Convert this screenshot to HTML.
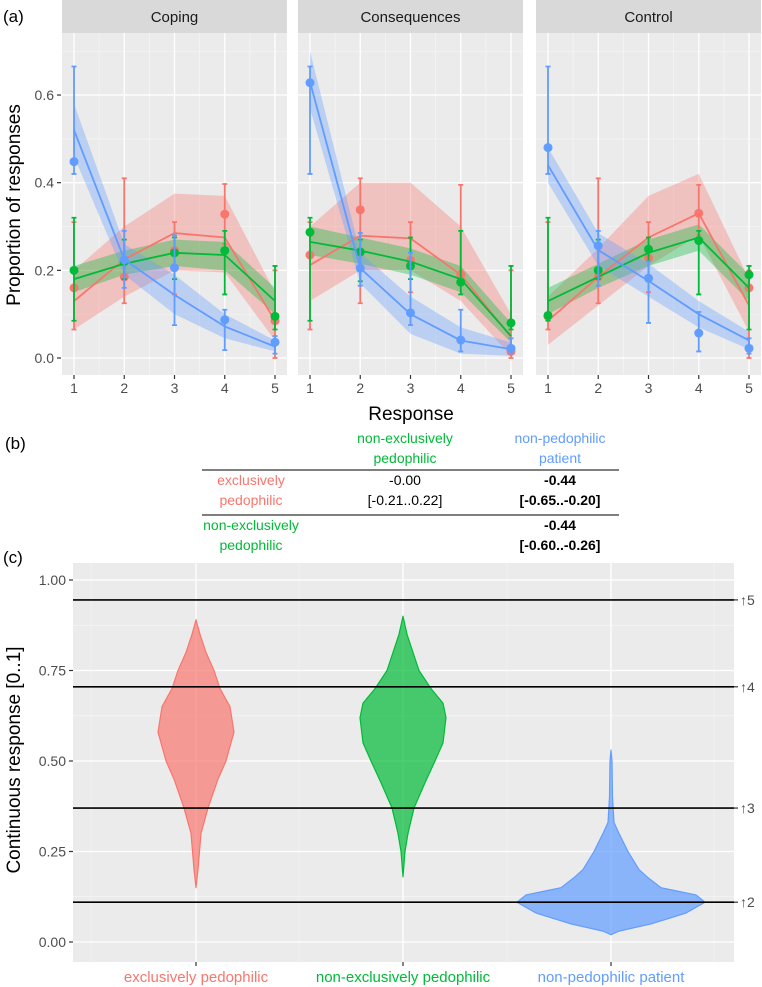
<!DOCTYPE html>
<html><head><meta charset="utf-8"><style>
html,body{margin:0;padding:0;background:#fff;}
svg{display:block;font-family:"Liberation Sans",sans-serif;}
</style></head><body>
<svg id="fig" width="762" height="987" viewBox="0 0 762 987" xmlns="http://www.w3.org/2000/svg">
<g id="pa"></g>
<g id="pb">
  <text x="5" y="449" font-size="17" fill="#000">(b)</text>
  <text x="405" y="443" font-size="14" fill="#00BA38" text-anchor="middle">non-exclusively</text>
  <text x="405" y="463" font-size="14" fill="#00BA38" text-anchor="middle">pedophilic</text>
  <text x="560" y="443" font-size="14" fill="#619CFF" text-anchor="middle">non-pedophilic</text>
  <text x="560" y="463" font-size="14" fill="#619CFF" text-anchor="middle">patient</text>
  <line x1="202" y1="470" x2="619" y2="470" stroke="#333" stroke-width="1.2"/>
  <text x="251" y="485" font-size="14" fill="#F8766D" text-anchor="middle">exclusively</text>
  <text x="251" y="505" font-size="14" fill="#F8766D" text-anchor="middle">pedophilic</text>
  <text x="405" y="485" font-size="14" fill="#000" text-anchor="middle">-0.00</text>
  <text x="405" y="505" font-size="14" fill="#000" text-anchor="middle">[-0.21..0.22]</text>
  <text x="560" y="485" font-size="14" font-weight="bold" fill="#000" text-anchor="middle">-0.44</text>
  <text x="560" y="505" font-size="14" font-weight="bold" fill="#000" text-anchor="middle">[-0.65..-0.20]</text>
  <line x1="202" y1="515" x2="619" y2="515" stroke="#333" stroke-width="1.2"/>
  <text x="251" y="530" font-size="14" fill="#00BA38" text-anchor="middle">non-exclusively</text>
  <text x="251" y="550" font-size="14" fill="#00BA38" text-anchor="middle">pedophilic</text>
  <text x="560" y="530" font-size="14" font-weight="bold" fill="#000" text-anchor="middle">-0.44</text>
  <text x="560" y="550" font-size="14" font-weight="bold" fill="#000" text-anchor="middle">[-0.60..-0.26]</text>
</g>
<g id="pc"></g>
</svg>
<script>
// ---------- Panel (a) data ----------
const facets = ["Coping", "Consequences", "Control"];
const responses = [1, 2, 3, 4, 5];
const yTicksA = [0.0, 0.2, 0.4, 0.6];
const groups = ["exclusively", "nonexclusive", "nonpedophilic"];
// observed points
const ptsRed   = [[0.16,0.185,0.245,0.328,0.085],[0.235,0.338,0.223,0.19,0.015],[0.095,0.185,0.228,0.33,0.16]];
const ptsGreen = [[0.20,0.22,0.24,0.245,0.095],[0.287,0.242,0.21,0.173,0.08],[0.097,0.20,0.248,0.268,0.19]];
const ptsBlue  = [[0.448,0.224,0.206,0.087,0.036],[0.628,0.205,0.103,0.041,0.022],[0.48,0.256,0.182,0.057,0.022]];
// error bar low/high
const errRedLo   = [[0.065,0.125,0.145,0.26,0.0],[0.065,0.125,0.15,0.2,0.0],[0.065,0.125,0.15,0.28,0.0]];
const errRedHi   = [[0.31,0.41,0.31,0.397,0.2],[0.31,0.41,0.31,0.395,0.2],[0.31,0.41,0.31,0.395,0.2]];
const errGreenLo = [[0.085,0.18,0.18,0.145,0.065],[0.085,0.175,0.18,0.145,0.065],[0.085,0.18,0.175,0.145,0.065]];
const errGreenHi = [[0.32,0.27,0.275,0.29,0.21],[0.32,0.27,0.275,0.29,0.21],[0.32,0.27,0.275,0.29,0.21]];
const errBlueLo  = [[0.42,0.16,0.075,0.018,0.01],[0.42,0.165,0.075,0.015,0.01],[0.42,0.165,0.08,0.015,0.01]];
const errBlueHi  = [[0.665,0.29,0.28,0.11,0.05],[0.665,0.285,0.24,0.11,0.045],[0.665,0.29,0.22,0.105,0.045]];
// model lines
const lineRed   = [[0.13,0.225,0.285,0.275,0.085],[0.212,0.279,0.273,0.19,0.048],[0.085,0.185,0.275,0.33,0.12]];
const lineGreen = [[0.18,0.215,0.24,0.235,0.13],[0.265,0.245,0.22,0.18,0.05],[0.13,0.185,0.24,0.275,0.16]];
const lineBlue  = [[0.52,0.225,0.144,0.072,0.026],[0.63,0.205,0.1,0.04,0.02],[0.44,0.246,0.176,0.1,0.04]];
// model bands
const bandRedLo   = [[0.065,0.14,0.2,0.195,0.04],[0.13,0.2,0.2,0.13,0.005],[0.03,0.12,0.21,0.28,0.06]];
const bandRedHi   = [[0.2,0.3,0.375,0.37,0.15],[0.3,0.4,0.4,0.3,0.1],[0.14,0.25,0.37,0.42,0.18]];
const bandGreenLo = [[0.15,0.19,0.21,0.2,0.1],[0.235,0.215,0.19,0.15,0.035],[0.1,0.16,0.21,0.245,0.13]];
const bandGreenHi = [[0.21,0.245,0.27,0.265,0.16],[0.3,0.275,0.25,0.21,0.08],[0.16,0.215,0.27,0.305,0.19]];
const bandBlueLo  = [[0.46,0.19,0.1,0.045,0.015],[0.57,0.17,0.055,0.01,0.005],[0.4,0.21,0.14,0.07,0.02]];
const bandBlueHi  = [[0.58,0.26,0.19,0.1,0.04],[0.7,0.24,0.14,0.07,0.035],[0.48,0.285,0.215,0.13,0.06]];

// ---------- Panel (c) data ----------
const violinCats = ["exclusively pedophilic", "non-exclusively pedophilic", "non-pedophilic patient"];
const yTicksC = [0.00, 0.25, 0.50, 0.75, 1.00];
const thresholds = [0.11, 0.37, 0.705, 0.945];
const thresholdLabels = ["↑2", "↑3", "↑4", "↑5"];
const violinRedY = [0.15,0.2,0.3,0.37,0.45,0.5,0.58,0.65,0.7,0.75,0.8,0.85,0.89];
const violinRedD = [0,2,5,12,22,30,38,34,24,18,10,4,0];
const violinGreenY = [0.18,0.25,0.3,0.37,0.44,0.5,0.55,0.62,0.66,0.7,0.75,0.8,0.85,0.9];
const violinGreenD = [0,2,5,11,22,32,40,43,40,28,16,10,4,0];
const violinBlueY = [0.02,0.03,0.05,0.08,0.11,0.13,0.15,0.18,0.2,0.25,0.3,0.33,0.4,0.5,0.53];
const violinBlueD = [0,8,40,75,94,85,50,36,28,17,8,3,1.5,1,0];

const NS = "http://www.w3.org/2000/svg";
const RED = "#F8766D", GREEN = "#00BA38", BLUE = "#619CFF";
function mk(parent, tag, attrs) {
  const el = document.createElementNS(NS, tag);
  for (const k in attrs) el.setAttribute(k, attrs[k]);
  parent.appendChild(el);
  return el;
}

// ---- Panel A ----
const pa = document.getElementById("pa");
const facetX0 = [62, 298, 536];
const facetW = 225;
const aTop = 33, aBot = 375;
function yA(v) { return 358 - v * 438.3; }
function xA(f, r) { return facetX0[f] + 12 + (r - 1) * 50.25; }

let t = mk(pa, "text", {x: 3, y: 22, "font-size": 17, fill: "#000"});


t.textContent = "(a)";

t = mk(pa, "text", {x: 0, y: 0, "font-size": 19, fill: "#000", "text-anchor": "middle", transform: "translate(20,205) rotate(-90)"});


t.textContent = "Proportion of responses";

t = mk(pa, "text", {x: 411, y: 420, "font-size": 19, fill: "#000", "text-anchor": "middle"});


t.textContent = "Response";

yTicksA.forEach(v => {
  const tk = mk(pa, "line", {x1: 57, x2: 61, y1: yA(v), y2: yA(v), stroke: "#333", "stroke-width": 1.2});
  
  
  const lb = mk(pa, "text", {x: 54, y: yA(v) + 5, "font-size": 14, fill: "#4D4D4D", "text-anchor": "end"});
  
  
  lb.textContent = v.toFixed(1);
});

const series = [
  {c: RED, pts: ptsRed, lo: errRedLo, hi: errRedHi, ln: lineRed, bl: bandRedLo, bh: bandRedHi, n: "exclusively"},
  {c: GREEN, pts: ptsGreen, lo: errGreenLo, hi: errGreenHi, ln: lineGreen, bl: bandGreenLo, bh: bandGreenHi, n: "non-exclusively"},
  {c: BLUE, pts: ptsBlue, lo: errBlueLo, hi: errBlueHi, ln: lineBlue, bl: bandBlueLo, bh: bandBlueHi, n: "non-pedophilic"}
];

facets.forEach((fname, f) => {
  const x0 = facetX0[f];
  const g = mk(pa, "g", {});
  
  
  const strip = mk(g, "rect", {x: x0, y: 0, width: facetW, height: 33, fill: "#D9D9D9"});
  
  
  const st = mk(g, "text", {x: x0 + facetW / 2, y: 22, "font-size": 15, fill: "#1A1A1A", "text-anchor": "middle"});
  
  
  st.textContent = fname;
  const bg = mk(g, "rect", {x: x0, y: aTop, width: facetW, height: aBot - aTop, fill: "#EBEBEB"});
  
  
  // minor grid
  [0.1, 0.3, 0.5, 0.7].forEach(v => {
    const gl = mk(g, "line", {x1: x0, x2: x0 + facetW, y1: yA(v), y2: yA(v), stroke: "#F5F5F5", "stroke-width": 0.7});
    
    
  });
  [1.5, 2.5, 3.5, 4.5].forEach(r => {
    const gl = mk(g, "line", {x1: xA(f, r), x2: xA(f, r), y1: aTop, y2: aBot, stroke: "#F5F5F5", "stroke-width": 0.7});
    
    
  });
  yTicksA.forEach(v => {
    const gl = mk(g, "line", {x1: x0, x2: x0 + facetW, y1: yA(v), y2: yA(v), stroke: "#fff", "stroke-width": 1.3});
    
    
  });
  responses.forEach(r => {
    const gl = mk(g, "line", {x1: xA(f, r), x2: xA(f, r), y1: aTop, y2: aBot, stroke: "#fff", "stroke-width": 1.3});
    
    
    const tk = mk(g, "line", {x1: xA(f, r), x2: xA(f, r), y1: aBot, y2: aBot + 4, stroke: "#333", "stroke-width": 1.2});
    
    
    const lb = mk(g, "text", {x: xA(f, r), y: 393, "font-size": 14, fill: "#4D4D4D", "text-anchor": "middle"});
    
    
    lb.textContent = r;
  });
  // bands
  series.forEach(s => {
    let d = "";
    responses.forEach((r, i) => { d += (i ? "L" : "M") + xA(f, r) + "," + yA(s.bh[f][i]); });
    for (let i = responses.length - 1; i >= 0; i--) d += "L" + xA(f, responses[i]) + "," + yA(s.bl[f][i]);
    const b = mk(g, "path", {d: d + "Z", fill: s.c, "fill-opacity": 0.35});
    
    
  });
  series.forEach(s => {
    let d = "";
    responses.forEach((r, i) => { d += (i ? "L" : "M") + xA(f, r) + "," + yA(s.ln[f][i]); });
    const l = mk(g, "path", {d: d, fill: "none", stroke: s.c, "stroke-width": 1.8});
    
    
    responses.forEach((r, i) => {
      const x = xA(f, r), y1 = yA(s.lo[f][i]), y2 = yA(s.hi[f][i]);
      const e = mk(g, "path", {d: `M${x},${y1}L${x},${y2}M${x-2.5},${y1}L${x+2.5},${y1}M${x-2.5},${y2}L${x+2.5},${y2}`, stroke: s.c, "stroke-width": 1.8, fill: "none"});
      
      
      const p = mk(g, "circle", {cx: x, cy: yA(s.pts[f][i]), r: 4.5, fill: s.c});
      
      
    });
  });
});

// ---- Panel C ----
const pc = document.getElementById("pc");
const cL = 73, cR = 734, cT = 563, cB = 962;
function yC(v) { return 942 - v * 362; }
const catX = [196, 403, 611];

t = mk(pc, "text", {x: 3, y: 563, "font-size": 17, fill: "#000"});


t.textContent = "(c)";
const bgc = mk(pc, "rect", {x: cL, y: cT, width: cR - cL, height: cB - cT, fill: "#EBEBEB"});


[0.125, 0.375, 0.625, 0.875].forEach(v => {
  const gl = mk(pc, "line", {x1: cL, x2: cR, y1: yC(v), y2: yC(v), stroke: "#F5F5F5", "stroke-width": 0.7});
  
  
});
[91, 299, 507, 714].forEach(x => {
  const gl = mk(pc, "line", {x1: x, x2: x, y1: cT, y2: cB, stroke: "#F5F5F5", "stroke-width": 0.7});
  
  
});
yTicksC.forEach(v => {
  const gl = mk(pc, "line", {x1: cL, x2: cR, y1: yC(v), y2: yC(v), stroke: "#fff", "stroke-width": 1.3});
  
  
  const tk = mk(pc, "line", {x1: cL - 4, x2: cL, y1: yC(v), y2: yC(v), stroke: "#333", "stroke-width": 1.2});
  
  
  const lb = mk(pc, "text", {x: cL - 7, y: yC(v) + 5, "font-size": 14, fill: "#4D4D4D", "text-anchor": "end"});
  
  
  lb.textContent = v.toFixed(2);
});
catX.forEach(x => {
  const gl = mk(pc, "line", {x1: x, x2: x, y1: cT, y2: cB, stroke: "#fff", "stroke-width": 1.3});
  
  
});
t = mk(pc, "text", {x: 0, y: 0, "font-size": 19, fill: "#000", "text-anchor": "middle", transform: "translate(20,760) rotate(-90)"});


t.textContent = "Continuous response [0..1]";

const violins = [[violinRedY, violinRedD, RED], [violinGreenY, violinGreenD, GREEN], [violinBlueY, violinBlueD, BLUE]];
violins.forEach((vv, k) => {
  const [ys, ds, col] = vv;
  const cx = catX[k];
  let d = "";
  ys.forEach((y, i) => { d += (i ? "L" : "M") + (cx + ds[i]) + "," + yC(y); });
  for (let i = ys.length - 1; i >= 0; i--) d += "L" + (cx - ds[i]) + "," + yC(ys[i]);
  const p = mk(pc, "path", {d: d + "Z", fill: col, "fill-opacity": 0.7, stroke: col, "stroke-width": 1.2, "stroke-linejoin": "round"});
  
  
  const tk = mk(pc, "line", {x1: cx, x2: cx, y1: cB, y2: cB + 4, stroke: "#333", "stroke-width": 1.2});
  
  
  const lb = mk(pc, "text", {x: cx, y: 982, "font-size": 15, fill: col, "text-anchor": "middle"});
  
  
  lb.textContent = violinCats[k];
});
thresholds.forEach((v, i) => {
  const l = mk(pc, "line", {x1: cL, x2: cR, y1: yC(v), y2: yC(v), stroke: "#000", "stroke-width": 1.6});
  
  
  const tk = mk(pc, "line", {x1: cR, x2: cR + 4, y1: yC(v), y2: yC(v), stroke: "#333", "stroke-width": 1.2});
  
  
  const lb = mk(pc, "text", {x: cR + 6, y: yC(v) + 5, "font-size": 14, fill: "#4D4D4D"});
  
  
  lb.textContent = thresholdLabels[i];
});
</script>
</body></html>
